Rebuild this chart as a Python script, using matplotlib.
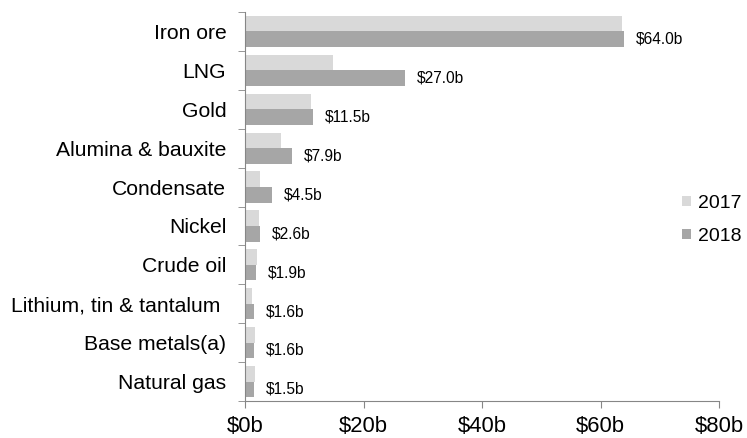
import numpy as np
import matplotlib
matplotlib.use("Agg")
import matplotlib.pyplot as plt
from matplotlib.ticker import FixedLocator

plt.rcParams['font.family'] = ['Liberation Sans', 'DejaVu Sans']

categories = ["Iron ore", "LNG", "Gold", "Alumina & bauxite", "Condensate",
              "Nickel", "Crude oil", "Lithium, tin & tantalum ", "Base metals(a)",
              "Natural gas"]
values_2017 = [63.6, 14.9, 11.2, 6.0, 2.5, 2.3, 2.1, 1.2, 1.7, 1.7]
values_2018 = [64.0, 27.0, 11.5, 7.9, 4.5, 2.6, 1.9, 1.6, 1.6, 1.5]
x_ticks = [0, 20, 40, 60, 80]

W, H = 747, 438
fig = plt.figure(figsize=(W / 100, H / 100), dpi=100)
ax = fig.add_axes([245 / W, 1 - 401 / H, (719 - 245) / W, (401 - 12) / H])

n = len(categories)
y = np.arange(n)
h = 0.4
ax.barh(y - h / 2, values_2017, height=h, color="#d9d9d9", label="2017")
ax.barh(y + h / 2, values_2018, height=h, color="#a6a6a6", label="2018")

# data labels for 2018 only
for yi, v in zip(y, values_2018):
    ax.text(v + 2.0, yi + h / 2, f"${v:.1f}b", va="center", ha="left", fontsize=11.2)

ax.set_ylim(n - 0.5, -0.5)
ax.set_xlim(0, 80)
ax.set_yticks(y)
ax.set_yticklabels(categories, fontsize=15.2)
ax.yaxis.set_minor_locator(FixedLocator(np.arange(-0.5, n, 1)))
ax.tick_params(axis="y", which="major", length=0, pad=13.5)
ax.tick_params(axis="y", which="minor", length=5, color="#868686")
ax.set_xticks(x_ticks)
ax.set_xticklabels([f"${t}b" for t in x_ticks], fontsize=15.8)
ax.tick_params(axis="x", length=5, color="#868686", pad=6)

for s in ["top", "right"]:
    ax.spines[s].set_visible(False)
for s in ["left", "bottom"]:
    ax.spines[s].set_color("#868686")

fig.legend(*ax.get_legend_handles_labels(), loc="upper left",
           bbox_to_anchor=(682 / W, 1 - 195 / H), frameon=False,
           fontsize=14, handlelength=0.46, handleheight=0.46, handletextpad=0.36,
           labelspacing=0.82, borderpad=0, borderaxespad=0)

fig.savefig("out.png", dpi=100)
